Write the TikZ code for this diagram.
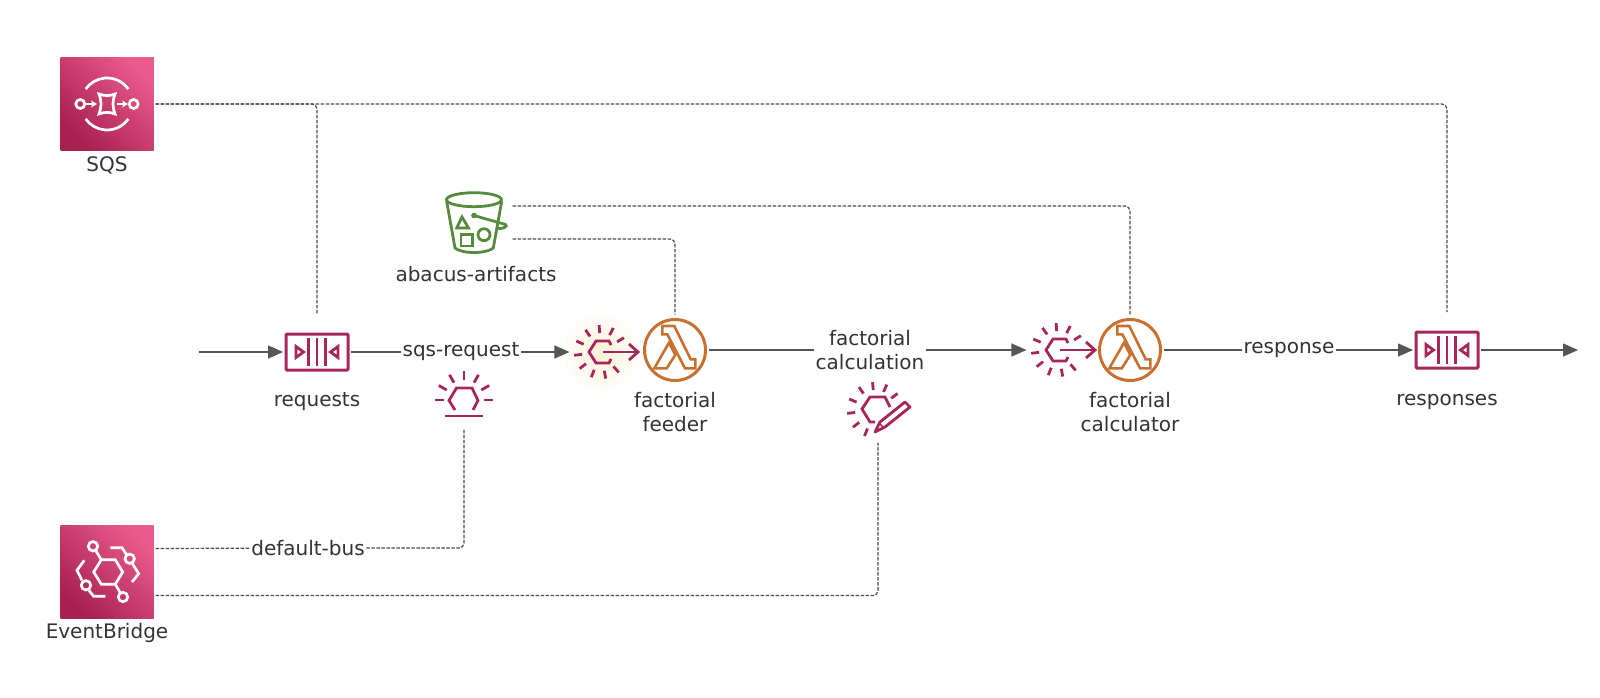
\documentclass[tikz,border=0pt]{standalone}
\usepackage{fontspec}
\setmainfont{DejaVu Sans}
\usetikzlibrary{arrows.meta}
\definecolor{crimson}{HTML}{A6265A}
\definecolor{pinktop}{HTML}{EA5A8C}
\definecolor{pinkbot}{HTML}{A62050}
\definecolor{lambdaorange}{HTML}{C8702F}
\definecolor{bucketgreen}{HTML}{558B3C}
\definecolor{flowgray}{HTML}{555555}
\definecolor{textgray}{HTML}{333333}
\definecolor{glow}{HTML}{FDF1D6}
\tikzset{
    every picture/.style={line width=1.2pt},
    txt/.style={font=\fontsize{20}{24.5}\selectfont, text=textgray, align=center, inner sep=1pt},
    flowlabel/.style={txt, fill=white, inner xsep=1pt, inner ysep=0pt},
    flow/.style={flowgray, line width=1.3pt},
    flowarrow/.style={flow, -{Triangle[length=15pt,width=13pt]}},
    dashline/.style={flowgray!90!black, line width=1.2pt, dash pattern=on 3.5pt off 1.5pt, rounded corners=5pt},
    servicebox/.style={minimum size=93pt, inner sep=0pt, outer sep=2pt, shading=axis, bottom color=pinkbot, top color=pinktop, shading angle=-45},
    queuebox/.style={draw=crimson, line width=3pt, rounded corners=1pt, minimum width=62pt, minimum height=36pt, inner sep=0pt, outer sep=3pt},
    lambdabox/.style={circle, draw=lambdaorange, line width=3pt, minimum size=61pt, inner sep=0pt, outer sep=3pt},
    rulebox/.style={minimum width=62pt, minimum height=58pt, inner sep=0pt},
    whiteline/.style={white, line width=2.7pt},
    crimsonline/.style={crimson, line width=2.8pt},
    % service and resource icons
    sqsicon/.pic={
        \draw[whiteline] (35:26) arc (35:145:26);
        \draw[whiteline] (-35:26) arc (-35:-145:26);
        \draw[whiteline] (-26.7,0) circle (4.5);
        \draw[whiteline] (26.7,0) circle (4.5);
        \draw[whiteline, -{Stealth[length=6pt,width=7pt]}] (-21,0) -- (-10,0);
        \draw[whiteline, -{Stealth[length=6pt,width=7pt]}] (10,0) -- (21,0);
        \draw[whiteline] (-8,-10) to[bend right=20] (8,-10) to[bend right=20] (8,10) to[bend right=20] (-8,10) to[bend right=20] cycle;
    },
    eventbridgeicon/.pic={
        \draw[whiteline] (-13.3,0) -- (-5.7,-12.3) -- (8.3,-12.3) -- (15.7,0) -- (8.3,12.3) -- (-5.7,12.3) -- cycle;
        \foreach \cx/\cy in {-14/-25.7, 22.7/-13.3, -21/13.3, 16/25}
            \draw[whiteline] (\cx,\cy) circle (4.7);
        \draw[whiteline] (-11,-21) -- (-5.7,-12.3);
        \draw[whiteline] (8.3,12.3) -- (13.5,21);
        \draw[whiteline] (3.3,-24.3) -- (15,-24.3) -- (19.5,-17.5);
        \draw[whiteline] (25,-9) -- (31.7,1.7) -- (25,10);
        \draw[whiteline] (-1.7,24.3) -- (-13.3,24.3) -- (-18,18.5);
        \draw[whiteline] (-25,8.3) -- (-30,-1.7) -- (-22.7,-11.7);
    },
    queueicon/.pic={
        \foreach \bx in {-8.3,0,8.3}
            \draw[crimsonline] (\bx,-14) -- (\bx,14);
        \draw[crimsonline] (-21,-5.5) -- (-13.5,0) -- (-21,5.5) -- cycle;
        \draw[crimsonline] (21,-5.5) -- (13.5,0) -- (21,5.5) -- cycle;
    },
    lambdaicon/.pic={
        \draw[lambdaorange, line width=2.6pt, line join=miter] (-12.7,-24) -- (-0.7,-24) -- (15.7,9.3) -- (20.3,9.3) -- (20.3,18.3) -- (10,18.3) -- (-7.7,-15.7) -- (-12.7,-15.7) -- cycle;
        \draw[lambdaorange, line width=2.6pt] (-6,-7.3) -- (-20.7,18.3) -- (-8.3,18.3) -- (0.3,5) -- cycle;
    },
    ruleicon/.pic={
        \foreach \a in {32,63,94,125,156,187,218,249,280,311}
            \draw[crimsonline] (-\a:19) -- (-\a:27);
        \draw[crimsonline] (10,-7) -- (8,-11) -- (-5,-11) -- (-12,0) -- (-5,11) -- (8,11) -- (10,7);
        \draw[crimsonline] (1.7,0) -- (37,0);
        \draw[crimsonline] (28,-8) -- (37,0) -- (28,8);
    },
    eventicon/.pic={
        \foreach \a in {0,30,60,90,120,150,180}
            \draw[crimsonline] (-\a:20) -- (-\a:29);
        \draw[crimsonline] (-9,10) -- (-15,0.5) -- (-7.5,-12) -- (8,-12) -- (14,0.5) -- (9,10);
        \draw[crimsonline] (-19,16) -- (19,16);
    },
    writeicon/.pic={
        \foreach \a in {36,65,95,125,157,187,218,248}
            \draw[crimsonline] (-\a:20) -- (-\a:28);
        \draw[crimsonline] (0,12) -- (-5,12) -- (-13,-1) -- (-5,-13) -- (10,-13) -- (15,-3);
        \draw[crimsonline, line join=round] (0,22) -- (5,12) -- (30,-8) -- (35,-3) -- (10,17) -- cycle;
        \draw[crimson, line width=1.5pt] (4,13) -- (9,18);
    },
    bucketicon/.pic={
        \draw[bucketgreen, line width=2.8pt] (0,-23.3) ellipse (27.5 and 7);
        \draw[bucketgreen, line width=2.8pt] (-27.3,-21.7) -- (-19,25) .. controls (-12,31) and (12,31) .. (19.3,25) -- (27.7,-21.7);
        \draw[bucketgreen, line width=2.8pt] (-17.3,5) -- (-12,-6) -- (-5.5,5) -- cycle;
        \draw[bucketgreen, line width=2.8pt] (-13,11.5) rectangle (-1.5,23);
        \draw[bucketgreen, line width=2.8pt] (10,11.7) circle (6);
        \draw[bucketgreen, line width=2.8pt] (0,-7.5) -- (31.5,1.5) .. controls (34,3) and (30,6) .. (24,5.5);
        \fill[bucketgreen] (0,-7.5) circle (2.8);
    },
}

\begin{document}
\begin{tikzpicture}[x=1pt,y=-1pt]
    \useasboundingbox (0,0) rectangle (1600,698);

    % glow behind the feeder trigger
    \shade[inner color=glow, outer color=white] (601,352) circle (42);

    % services
    \node[servicebox] (sqs) at (107,104) {};
    \pic at (sqs) {sqsicon};
    \node[txt] (sqslabel) at (107,165.5) {SQS};
    \node[servicebox] (eventbridge) at (107,572) {};
    \pic at (eventbridge) {eventbridgeicon};
    \node[txt] (eventbridgelabel) at (107,633) {EventBridge};

    % queues
    \node[queuebox] (requests) at (317,352) {};
    \pic at (requests) {queueicon};
    \node[txt] (requestslabel) at (317,402) {requests};
    \node[queuebox] (responses) at (1447,350) {};
    \pic at (responses) {queueicon};
    \node[txt] (responseslabel) at (1447,402) {responses};

    % bucket
    \node[minimum width=76pt, minimum height=64pt, inner sep=0pt] (bucket) at (474,223) {};
    \pic at (bucket) {bucketicon};
    \node[txt] (bucketlabel) at (476,274) {abacus-artifacts};

    % functions and their triggers
    \node[rulebox] (feederrule) at (601,352) {};
    \pic at (feederrule) {ruleicon};
    \node[lambdabox] (feeder) at (675,350) {};
    \pic at (feeder) {lambdaicon};
    \node[txt] (feederlabel) at (675,412) {factorial\\feeder};
    \node[rulebox] (calculatorrule) at (1058,350) {};
    \pic at (calculatorrule) {ruleicon};
    \node[lambdabox] (calculator) at (1130,350) {};
    \pic at (calculator) {lambdaicon};
    \node[txt] (calculatorlabel) at (1130,412) {factorial\\calculator};

    % event icons
    \node[minimum width=58pt, minimum height=58pt, inner sep=0pt] (requestevent) at (464,400) {};
    \pic at (requestevent) {eventicon};
    \node[minimum width=60pt, minimum height=64pt, inner sep=0pt] (writeevent) at (878,410) {};
    \pic at (875,410) {writeicon};

    % flow labels
    \node[flowlabel] (sqsrequest) at (461,352) {sqs-request};
    \node[flowlabel] (calculation) at (870,350) {factorial\\calculation};
    \node[flowlabel] (response) at (1289,350) {response};
    \node[flowlabel] (defaultbus) at (308,548) {default-bus};

    % free ends of the flow
    \coordinate (flowstart) at (199,352);
    \coordinate (flowend) at (1578,350);

    % main flow
    \draw[flowarrow] (flowstart) -- (requests);
    \draw[flow] (requests) -- (sqsrequest);
    \draw[flowarrow] (sqsrequest) -- (feederrule);
    \draw[flow] (feeder) -- (calculation);
    \draw[flowarrow] (calculation) -- (calculatorrule);
    \draw[flow] (calculator) -- (response);
    \draw[flowarrow] (response) -- (responses);
    \draw[flowarrow] (responses) -- (flowend);

    % dashed links
    \draw[dashline, shorten >=17pt] (sqs.east) -| (requests.north);
    \draw[dashline, shorten >=17pt] (sqs.east) -| (responses.north);
    \draw[dashline, shorten >=2pt] ([yshift=17pt]bucket.east) -| (calculator.north);
    \draw[dashline, shorten >=2pt] ([yshift=-16pt]bucket.east) -| (feeder.north);
    \draw[dashline] ([yshift=23.5pt]eventbridge.east) -- (defaultbus);
    \draw[dashline] (defaultbus) -| (requestevent.south);
    \draw[dashline] ([yshift=-23.5pt]eventbridge.east) -| (writeevent.south);
\end{tikzpicture}
\end{document}
